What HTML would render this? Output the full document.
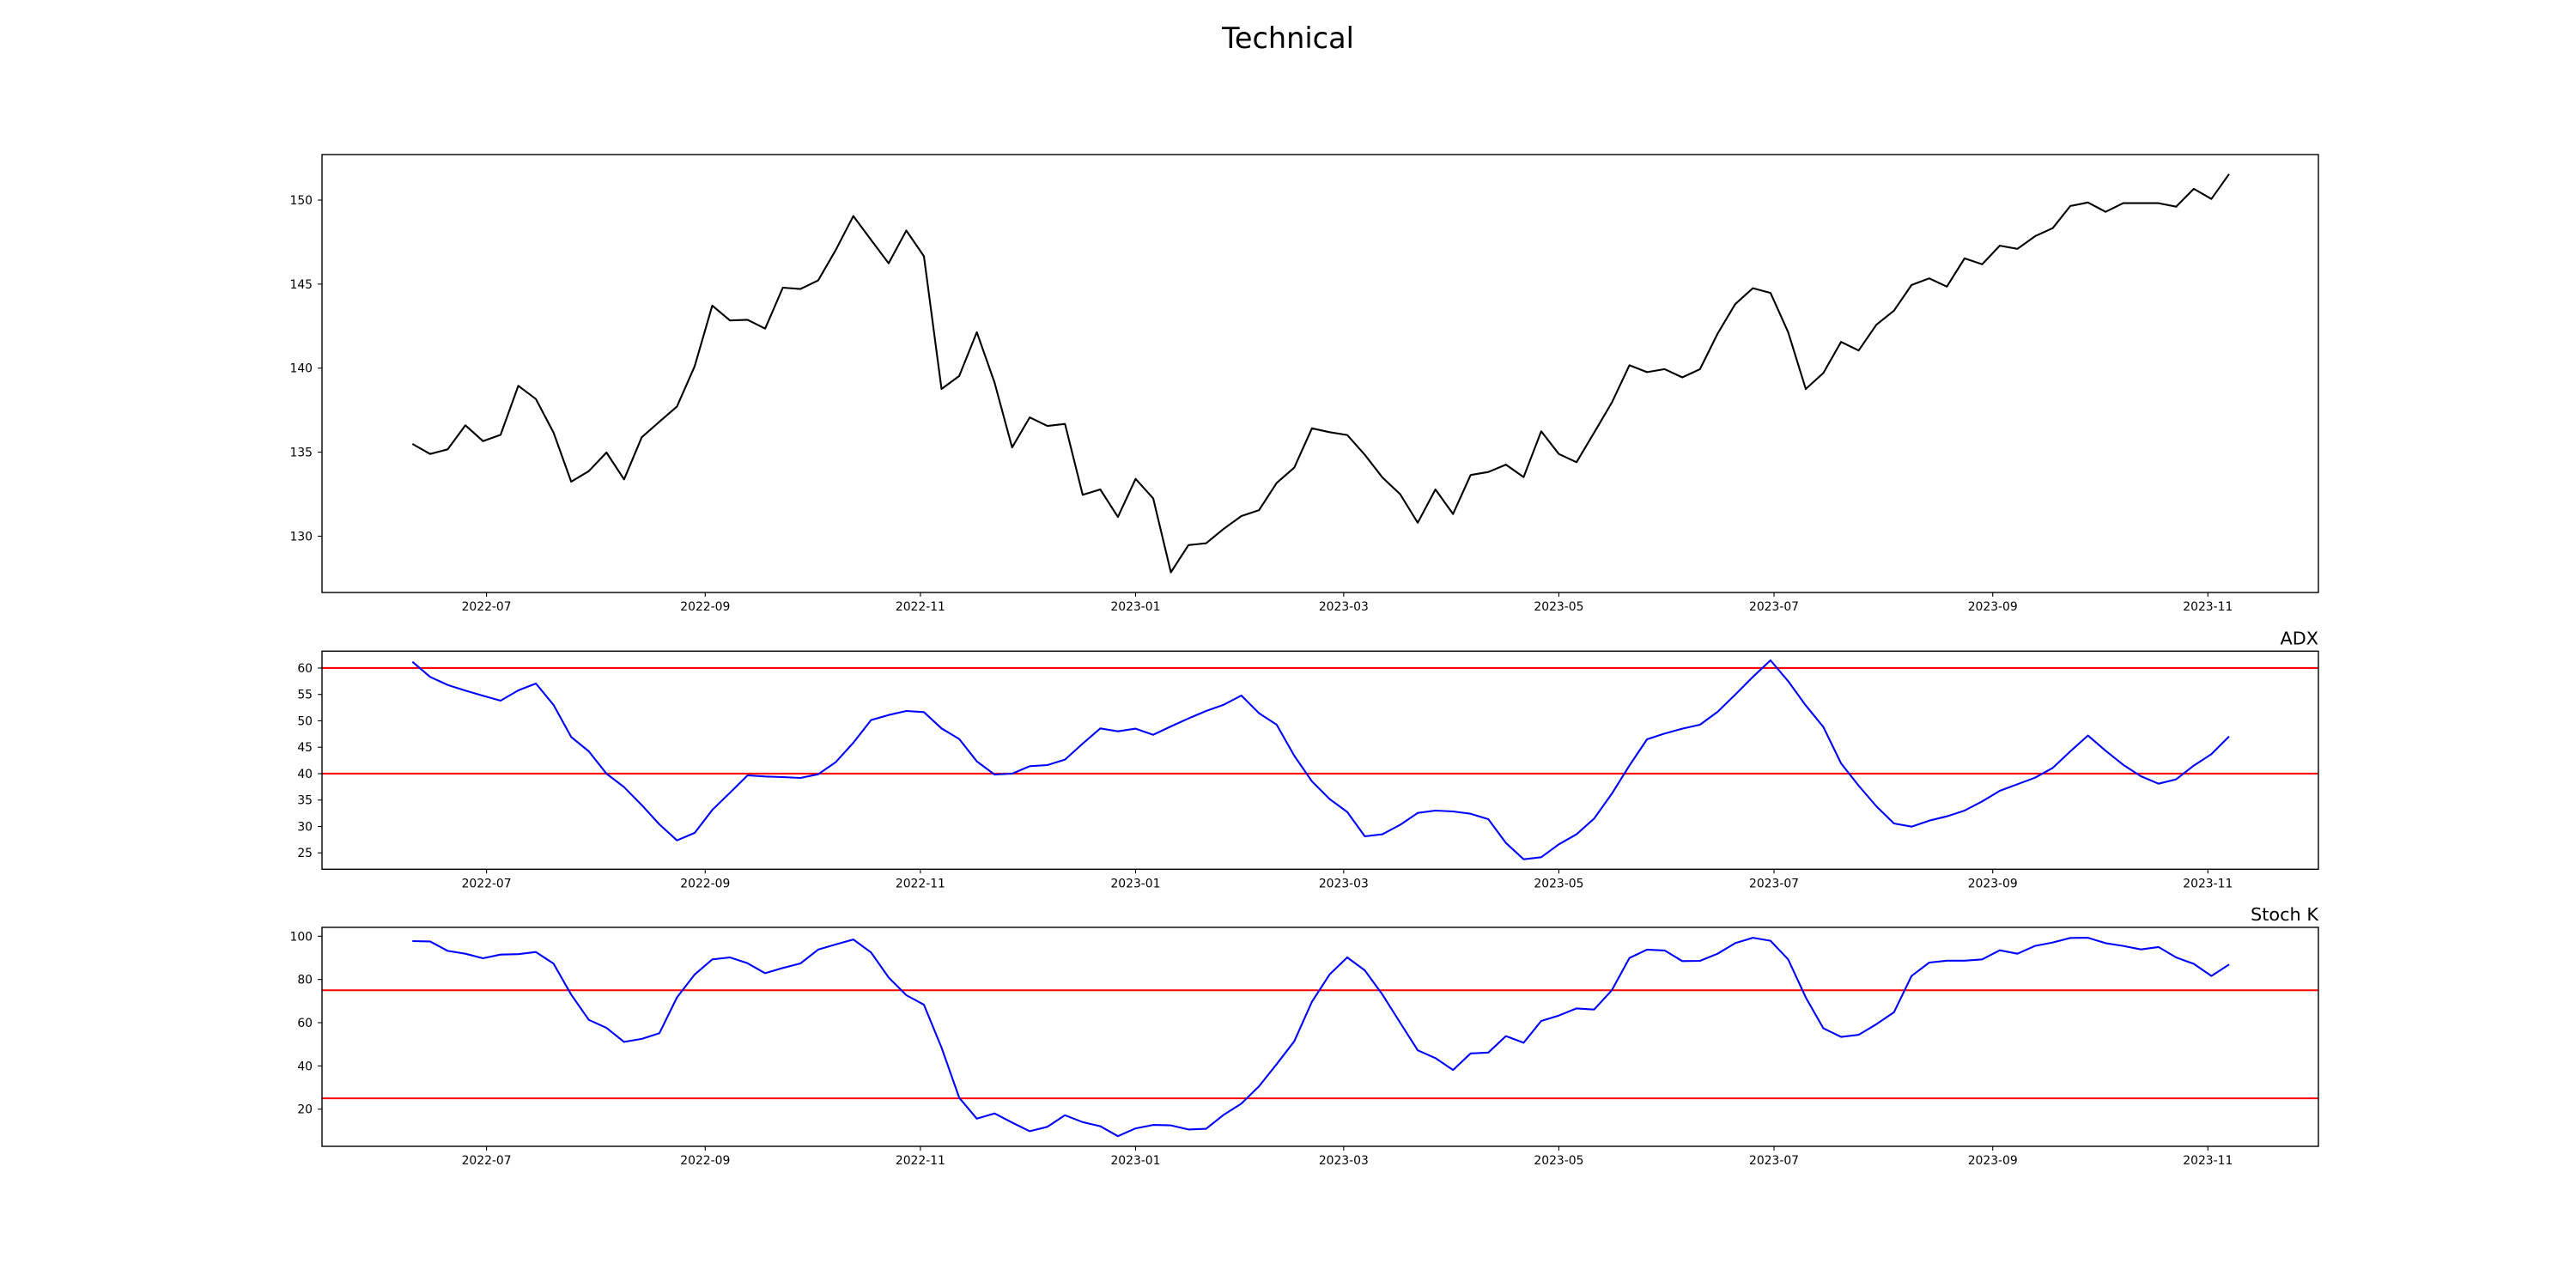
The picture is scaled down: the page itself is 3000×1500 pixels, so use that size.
<!DOCTYPE html>
<html><head><meta charset="utf-8"><title>Technical</title>
<style>
html,body{margin:0;padding:0;background:#fff;}
svg{display:block;font-family:"DejaVu Sans","Liberation Sans",sans-serif;}
</style></head>
<body>
<svg id="fig" width="3000" height="1500" viewBox="0 0 3000 1500">
<rect x="0" y="0" width="3000" height="1500" fill="#fff"/>
<text x="1500" y="56" text-anchor="middle" font-size="33.5" fill="#000">Technical</text>
</svg>
<script>
const START_DATE = "2022-06-10";
const STEP_DAYS = 5;
const xTickLabels = ["2022-07","2022-09","2022-11","2023-01","2023-03","2023-05","2023-07","2023-09","2023-11"];
const priceValues = [135.49,134.89,135.17,136.6,135.66,136.03,138.95,138.16,136.16,133.24,133.87,134.98,133.38,135.89,136.81,137.72,140.11,143.72,142.84,142.88,142.35,144.79,144.71,145.22,147.03,149.05,147.63,146.24,148.19,146.66,138.76,139.53,142.14,139.15,135.28,137.07,136.56,136.68,132.46,132.78,131.14,133.41,132.25,127.85,129.47,129.58,130.44,131.2,131.55,133.17,134.08,136.42,136.19,136.02,134.84,133.49,132.5,130.8,132.78,131.32,133.64,133.82,134.26,133.52,136.24,134.89,134.4,136.16,137.95,140.17,139.76,139.94,139.45,139.94,142.05,143.81,144.76,144.48,142.14,138.76,139.71,141.56,141.05,142.58,143.42,144.95,145.34,144.85,146.53,146.18,147.29,147.1,147.85,148.33,149.65,149.86,149.3,149.82,149.82,149.82,149.61,150.67,150.07,151.55];
const adxValues = [61.19,58.32,56.8,55.72,54.74,53.82,55.77,57.07,53.0,46.94,44.23,40.0,37.45,34.04,30.41,27.37,28.78,33.12,36.37,39.67,39.46,39.35,39.19,39.89,42.17,45.85,50.14,51.11,51.87,51.65,48.56,46.56,42.33,39.84,40.0,41.41,41.63,42.66,45.69,48.56,48.02,48.51,47.37,48.94,50.46,51.87,53.06,54.8,51.44,49.27,43.4,38.54,35.2,32.74,28.13,28.51,30.3,32.57,33.0,32.85,32.41,31.38,26.88,23.79,24.17,26.61,28.51,31.49,36.2,41.52,46.5,47.59,48.51,49.27,51.71,54.96,58.32,61.46,57.51,52.9,48.83,41.95,37.72,33.82,30.57,29.97,31.11,31.92,33.0,34.74,36.75,37.99,39.24,41.08,44.23,47.21,44.34,41.68,39.51,38.1,38.92,41.52,43.69,47.05];
const stochValues = [97.75,97.6,93.2,91.9,89.8,91.5,91.7,92.7,87.3,73.0,61.3,57.6,51.1,52.5,55.1,71.7,82.3,89.3,90.2,87.5,82.9,85.3,87.4,93.8,96.2,98.5,92.5,80.9,72.7,68.3,48.5,25.3,15.6,18.0,13.8,9.8,11.8,17.2,14.0,12.1,7.5,11.1,12.7,12.5,10.6,10.9,17.4,22.6,30.6,40.8,51.4,69.7,82.3,90.2,84.2,73.0,60.0,47.2,43.6,38.1,45.8,46.2,53.8,50.7,60.8,63.3,66.6,66.1,75.0,89.9,93.8,93.4,88.5,88.6,91.9,96.8,99.3,97.9,89.3,71.7,57.4,53.4,54.4,59.3,64.8,81.6,87.8,88.7,88.7,89.3,93.5,91.9,95.5,97.1,99.2,99.3,96.8,95.5,93.9,95.0,90.2,87.2,81.6,86.9];
const priceTicks = [130,135,140,145,150];
const adxTicks = [25,30,35,40,45,50,55,60];
const adxThresholds = [60,40];
const stochTicks = [20,40,60,80,100];
const stochThresholds = [75,25];

const NS = "http://www.w3.org/2000/svg";
const svg = document.getElementById("fig");
const X0 = 375, X1 = 2700;
const REF_DATE = Date.UTC(2022,6,1), REF_PX = 566.6, PX_PER_DAY = 4.108;
function dayOf(s){const p=s.split("-").map(Number);return Date.UTC(p[0],p[1]-1,p[2]||1);}
function xScaleDate(ms){return REF_PX + (ms-REF_DATE)/86400000*PX_PER_DAY;}
function xOfIndex(i){return xScaleDate(dayOf(START_DATE)+i*STEP_DAYS*86400000);}
function mk(tag,attrs){const e=document.createElementNS(NS,tag);for(const k in attrs)e.setAttribute(k,attrs[k]);svg.appendChild(e);return e;}
function makeY(top,bottom,vTop,vBot){return v=>top+(vTop-v)/(vTop-vBot)*(bottom-top);}

function panel(name,top,bottom,vTop,vBot,ticks,values,color,thresholds,title){
  const y = makeY(top,bottom,vTop,vBot);
  thresholds.forEach(t=>{
    const l=mk("line",{x1:X0,x2:X1,y1:y(t),y2:y(t),stroke:"#ff0000","stroke-width":2.1});
    
    
  });
  const pts = values.map((v,i)=>xOfIndex(i).toFixed(1)+","+y(v).toFixed(1)).join(" ");
  const pl = mk("polyline",{points:pts,fill:"none",stroke:color,"stroke-width":2.1,"stroke-linejoin":"round"});
  
  
  const fr = mk("rect",{x:X0,y:top,width:X1-X0,height:bottom-top,fill:"none",stroke:"#000","stroke-width":1.4});
  
  
  ticks.forEach(t=>{
    const yy=y(t);
    const tk=mk("line",{x1:X0-4.9,x2:X0,y1:yy,y2:yy,stroke:"#000","stroke-width":1.1});
    
    
    const tx=mk("text",{x:X0-11,y:yy+5,"text-anchor":"end","font-size":13.9,fill:"#000"});
    tx.textContent=String(t);
    
    
  });
  xTickLabels.forEach(lbl=>{
    const xx=xScaleDate(dayOf(lbl));
    const tk=mk("line",{x1:xx,x2:xx,y1:bottom,y2:bottom+4.9,stroke:"#000","stroke-width":1.1});
    
    
    const tx=mk("text",{x:xx,y:bottom+21,"text-anchor":"middle","font-size":13.9,fill:"#000"});
    tx.textContent=lbl;
    
    
  });
  if(title){
    const tt=mk("text",{x:X1,y:top-8,"text-anchor":"end","font-size":20.8,fill:"#000"});
    tt.textContent=title;
    
    
  }
}
panel("price",180,690,152.71,126.65,priceTicks,priceValues,"#000000",[],null);
panel("adx",758.3,1012.3,63.2,21.9,adxTicks,adxValues,"#0000ff",adxThresholds,"ADX");
panel("stoch",1080,1335,104.1,2.8,stochTicks,stochValues,"#0000ff",stochThresholds,"Stoch K");
</script>
</body></html>
